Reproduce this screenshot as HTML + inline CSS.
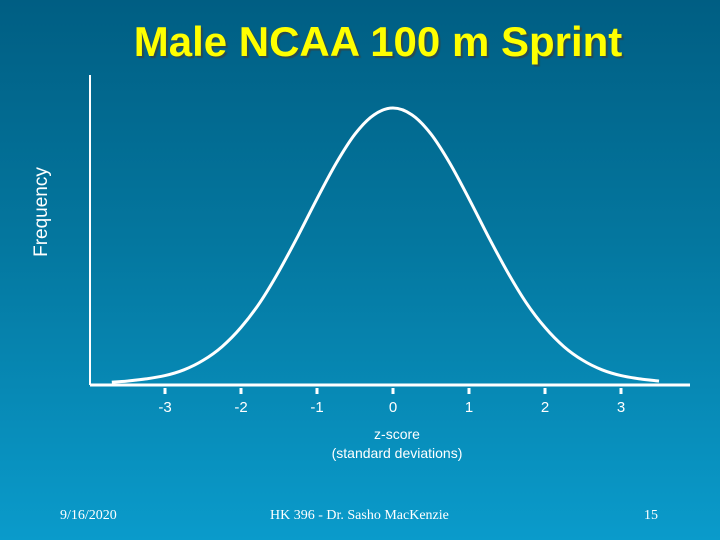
<!DOCTYPE html>
<html><head><meta charset="utf-8"><style>
html,body{margin:0;padding:0}
body{width:720px;height:540px;overflow:hidden;background:linear-gradient(to bottom,#005e83 0%,#04779f 45%,#0a9bcb 100%);font-family:"Liberation Sans",sans-serif;position:relative}
.t{position:absolute;color:#fff}
</style></head><body>
<div class="t" style="left:0;width:756px;top:18px;text-align:center;font-size:42px;font-weight:bold;color:#ffff00;text-shadow:2px 2px 1px #2a4a50">Male NCAA 100 m Sprint</div>
<div class="t" style="left:-18px;top:201px;width:120px;text-align:center;font-size:19px;transform:rotate(-90deg)">Frequency</div>
<div class="t" style="left:297px;width:200px;top:425px;text-align:center;font-size:14px;line-height:19px">z-score<br>(standard deviations)</div>
<div class="t" style="left:60px;top:508px;font-family:'Liberation Serif',serif;font-size:14px">9/16/2020</div>
<div class="t" style="left:270px;top:508px;font-family:'Liberation Serif',serif;font-size:14px">HK 396 - Dr. Sasho MacKenzie</div>
<div class="t" style="left:644px;top:508px;font-family:'Liberation Serif',serif;font-size:14px">15</div>
<svg id="c" width="720" height="540" style="position:absolute;left:0;top:0"></svg>
<script>
const zTicks=[-3,-2,-1,0,1,2,3];
const tickLabels=["-3","-2","-1","0","1","2","3"];
const curveZ=[-3.7,-3.5,-3.25,-3,-2.75,-2.5,-2.25,-2,-1.75,-1.5,-1.25,-1,-0.75,-0.5,-0.25,0,0.25,0.5,0.75,1,1.25,1.5,1.75,2,2.25,2.5,2.75,3,3.25,3.5];
const curveDensity=[0.003,0.007,0.015,0.027,0.048,0.082,0.132,0.202,0.293,0.407,0.535,0.670,0.798,0.905,0.975,1.0,0.975,0.905,0.798,0.670,0.535,0.407,0.293,0.202,0.132,0.082,0.048,0.027,0.015,0.007];
const x0=90,x1=690,yb=385,ytop=75;
const xs=z=>393+z*76;
const ys=d=>yb-2-d*275;
const svg=document.getElementById('c');
const NS='http://www.w3.org/2000/svg';
function mk(t,a){const e=document.createElementNS(NS,t);for(const k in a)e.setAttribute(k,a[k]);svg.appendChild(e);return e;}
let e=mk('line',{x1:x0,y1:ytop,x2:x0,y2:yb,stroke:'#fff','stroke-width':2});


e=mk('line',{x1:x0,y1:yb,x2:x1,y2:yb,stroke:'#fff','stroke-width':3});


zTicks.forEach((z,i)=>{
 let t=mk('line',{x1:xs(z),y1:yb+3,x2:xs(z),y2:yb+9,stroke:'#fff','stroke-width':3});
 
 
 let l=mk('text',{x:xs(z),y:yb+27,fill:'#fff','font-size':15,'text-anchor':'middle','font-family':'Liberation Sans, sans-serif'});
 l.textContent=tickLabels[i];
 
 
});
const P=curveZ.map((z,i)=>[xs(z),ys(curveDensity[i])]);
let d='M'+P[0][0]+' '+P[0][1];
for(let i=0;i<P.length-1;i++){
 const p0=P[Math.max(0,i-1)],p1=P[i],p2=P[i+1],p3=P[Math.min(P.length-1,i+2)];
 d+=' C'+(p1[0]+(p2[0]-p0[0])/6).toFixed(1)+' '+(p1[1]+(p2[1]-p0[1])/6).toFixed(1)+' '+(p2[0]-(p3[0]-p1[0])/6).toFixed(1)+' '+(p2[1]-(p3[1]-p1[1])/6).toFixed(1)+' '+p2[0].toFixed(1)+' '+p2[1].toFixed(1);
}
e=mk('path',{d:d,fill:'none',stroke:'#fff','stroke-width':3,'stroke-linejoin':'round'});


</script>
</body></html>
